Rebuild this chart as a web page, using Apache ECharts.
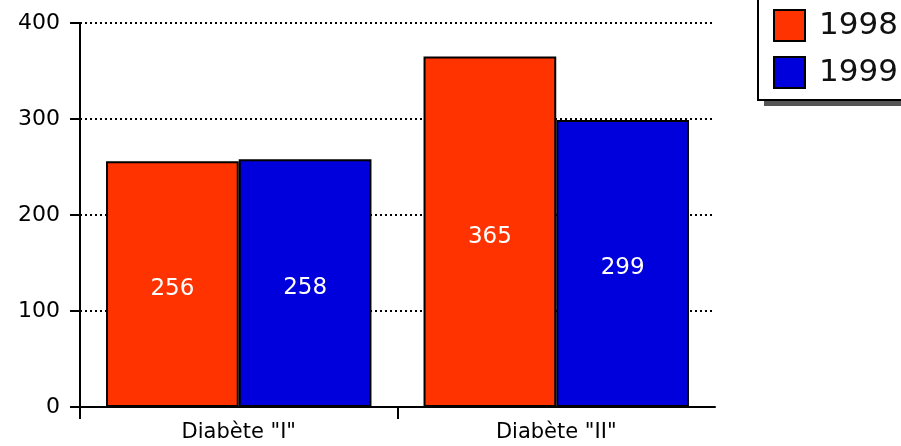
<!DOCTYPE html>
<html>
<head>
<meta charset="utf-8">
<script src="https://cdn.jsdelivr.net/npm/echarts@6/dist/echarts.min.js"></script>
<style>
html,body{margin:0;padding:0;background:#fff;}
#chart{width:901px;height:446px;}
</style>
</head>
<body>
<div id="chart"></div>
<script>
const categories = ['Diabète "I"', 'Diabète "II"'];
const seriesNames = ['1998', '1999'];
const values1998 = [256, 365];
const values1999 = [258, 299];
const yTicks = [0, 100, 200, 300, 400];

const FONT = '"DejaVu Sans", Verdana, sans-serif';
const chart = echarts.init(document.getElementById('chart'), null, {renderer: 'canvas'});

const labelStyle = {
  show: true,
  position: 'inside',
  offset: [0, 5],
  color: '#ffffff',
  fontFamily: FONT,
  fontSize: 23
};

chart.setOption({
  animation: false,
  backgroundColor: '#ffffff',
  grid: {left: 80, right: 186, top: 23, bottom: 39},
  legend: {
    z: 10,
    orient: 'vertical',
    left: 758,
    top: -20,
    padding: [29, 30, 13, 15],
    itemWidth: 31,
    itemHeight: 31,
    itemGap: 14,
    borderWidth: 0,
    textStyle: {color: '#111111', fontFamily: FONT, fontSize: 31, padding: [0, 0, 0, 9]},
    icon: 'rect',
    data: seriesNames
  },
  graphic: [
    {
      type: 'rect',
      z: 1,
      silent: true,
      shape: {x: 764, y: -14, width: 300, height: 120},
      style: {fill: '#555555', stroke: 'none'}
    },
    {
      type: 'rect',
      z: 2,
      silent: true,
      shape: {x: 758, y: -20, width: 300, height: 120},
      style: {fill: '#ffffff', stroke: '#000', lineWidth: 2}
    }
  ],
  xAxis: [
    {
      type: 'category',
      data: categories,
      axisLine: {lineStyle: {color: '#000', width: 2}},
      axisTick: {show: false},
      axisLabel: {color: '#000', fontFamily: FONT, fontSize: 21, margin: 15}
    },
    {
      type: 'value',
      position: 'bottom',
      min: 0,
      max: categories.length,
      interval: 1,
      axisLine: {show: false},
      splitLine: {show: false},
      axisLabel: {show: false},
      axisTick: {show: true, length: 12, customValues: [0, 1], lineStyle: {color: '#000', width: 2}}
    }
  ],
  yAxis: {
    type: 'value',
    min: yTicks[0],
    max: yTicks[yTicks.length - 1],
    interval: 100,
    axisLine: {show: true, lineStyle: {color: '#000', width: 2}},
    axisTick: {show: true, length: 10, lineStyle: {color: '#000', width: 2}},
    axisLabel: {color: '#000', fontFamily: FONT, fontSize: 22, margin: 20},
    splitLine: {show: true, lineStyle: {color: '#000', width: 2, type: [2, 3]}}
  },
  series: [
    {
      name: seriesNames[0],
      type: 'bar',
      xAxisIndex: 0,
      data: values1998,
      barGap: '0%',
      barCategoryGap: '16.4%',
      itemStyle: {color: '#ff3300', borderColor: '#000', borderWidth: 2},
      label: labelStyle
    },
    {
      name: seriesNames[1],
      type: 'bar',
      xAxisIndex: 0,
      data: values1999,
      barGap: '0%',
      barCategoryGap: '16.4%',
      itemStyle: {color: '#0000dd', borderColor: '#000', borderWidth: 2},
      label: labelStyle
    }
  ]
});
</script>
</body>
</html>
